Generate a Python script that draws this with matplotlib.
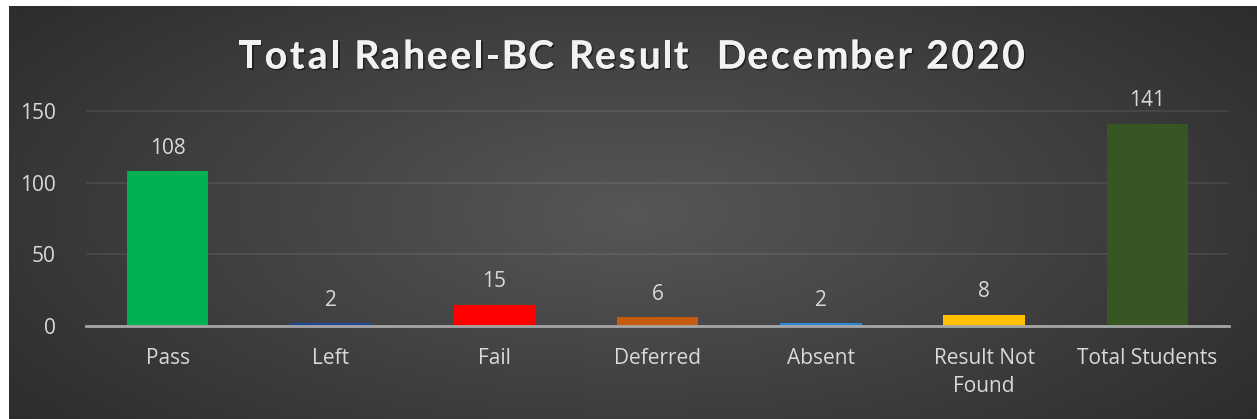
import numpy as np
import matplotlib
matplotlib.use("Agg")
import matplotlib.pyplot as plt
import matplotlib.patheffects as pe
from matplotlib.textpath import TextPath
from matplotlib.font_manager import FontProperties

categories = ["Pass", "Left", "Fail", "Deferred", "Absent", "Result Not\nFound", "Total Students"]
values = [108, 2, 15, 6, 2, 8, 141]
colors = ["#00B050", "#1F4A96", "#FF0000", "#C55A11", "#2E86D6", "#FFC000", "#375623"]
yticks = [0, 50, 100, 150]
title = "Total Raheel-BC Result  December 2020"

W, H = 1257, 419
fig = plt.figure(figsize=(W / 100, H / 100), dpi=100)
fig.patch.set_facecolor("white")

# background panel with radial gradient
bg = fig.add_axes([9 / W, 0, 1 - 9 / W, 1 - 6 / H])
bg.set_axis_off()
yy, xx = np.mgrid[0:200, 0:600]
cx, cy = 300, 100
r = np.sqrt(((xx - cx) / 330.0) ** 2 + ((yy - cy) / 140.0) ** 2)
val = 0.34 - 0.20 * np.clip(r, 0, 1.4) / 1.4
img = np.dstack([val, val, val])
bg.imshow(img, aspect="auto", extent=[0, 1, 0, 1], interpolation="bilinear")
bg.set_xlim(0, 1)
bg.set_ylim(0, 1)

fs = "Open Sans"
ax = fig.add_axes([86 / W, 1 - 326 / H, (1229 - 86) / W, (326 - 111) / H * (160 / 150)])
ax.set_facecolor("none")
x = np.arange(len(categories))
ax.bar(x, values, width=0.5, color=colors, zorder=3)
ax.set_xlim(-0.5, len(categories) - 0.5)
ax.set_ylim(0, 160)
ax.set_yticks(yticks)
ax.yaxis.grid(True, color="#ffffff", alpha=0.09, linewidth=1.2, zorder=0)
ax.set_axisbelow(True)
for s in ["top", "right", "left"]:
    ax.spines[s].set_visible(False)
ax.spines["bottom"].set_color("#a6a6a6")
ax.spines["bottom"].set_linewidth(2)
ax.spines["bottom"].set_zorder(4)
ax.tick_params(axis="both", length=0, colors="#d9d9d9", labelsize=15)
ax.set_xticks(x)
ax.set_xticklabels(categories, fontfamily=fs, color="#d9d9d9", linespacing=1.45)
for lab in ax.get_yticklabels():
    lab.set_fontfamily(fs)
ax.tick_params(axis="x", pad=16)
ax.tick_params(axis="y", pad=22)
for xi, v in zip(x, values):
    ax.annotate(str(v), (xi, v), xytext=(0, 9), textcoords="offset points",
                ha="center", va="bottom", fontsize=15, color="#d9d9d9", fontfamily=fs)

# title with letter spacing
tfam = "Lato"
tsize = 28
prop = FontProperties(family=tfam, weight="bold", size=tsize)
widths = []
for ch in title:
    if ch == " ":
        widths.append(tsize * 0.30)
    else:
        widths.append(TextPath((0, 0), ch + "|", prop=prop).get_extents().width
                      - TextPath((0, 0), "|", prop=prop).get_extents().width)
widths_px = np.array(widths) * 100 / 72
target = 1027 - 238
spacing = (target - widths_px.sum()) / (len(title) - 1)
xpos = 238
shadow = [pe.withSimplePatchShadow(offset=(1.2, -1.2), shadow_rgbFace="black", alpha=0.45), pe.Normal()]
for ch, w in zip(title, widths_px):
    if ch != " ":
        fig.text(xpos / W, 1 - 54 / H, ch, ha="left", va="center_baseline", fontsize=tsize,
                 fontweight="bold", color="#f2f2f2", fontfamily=tfam, path_effects=shadow)
    xpos += w + spacing

fig.savefig("out.png", dpi=100, facecolor="white")
